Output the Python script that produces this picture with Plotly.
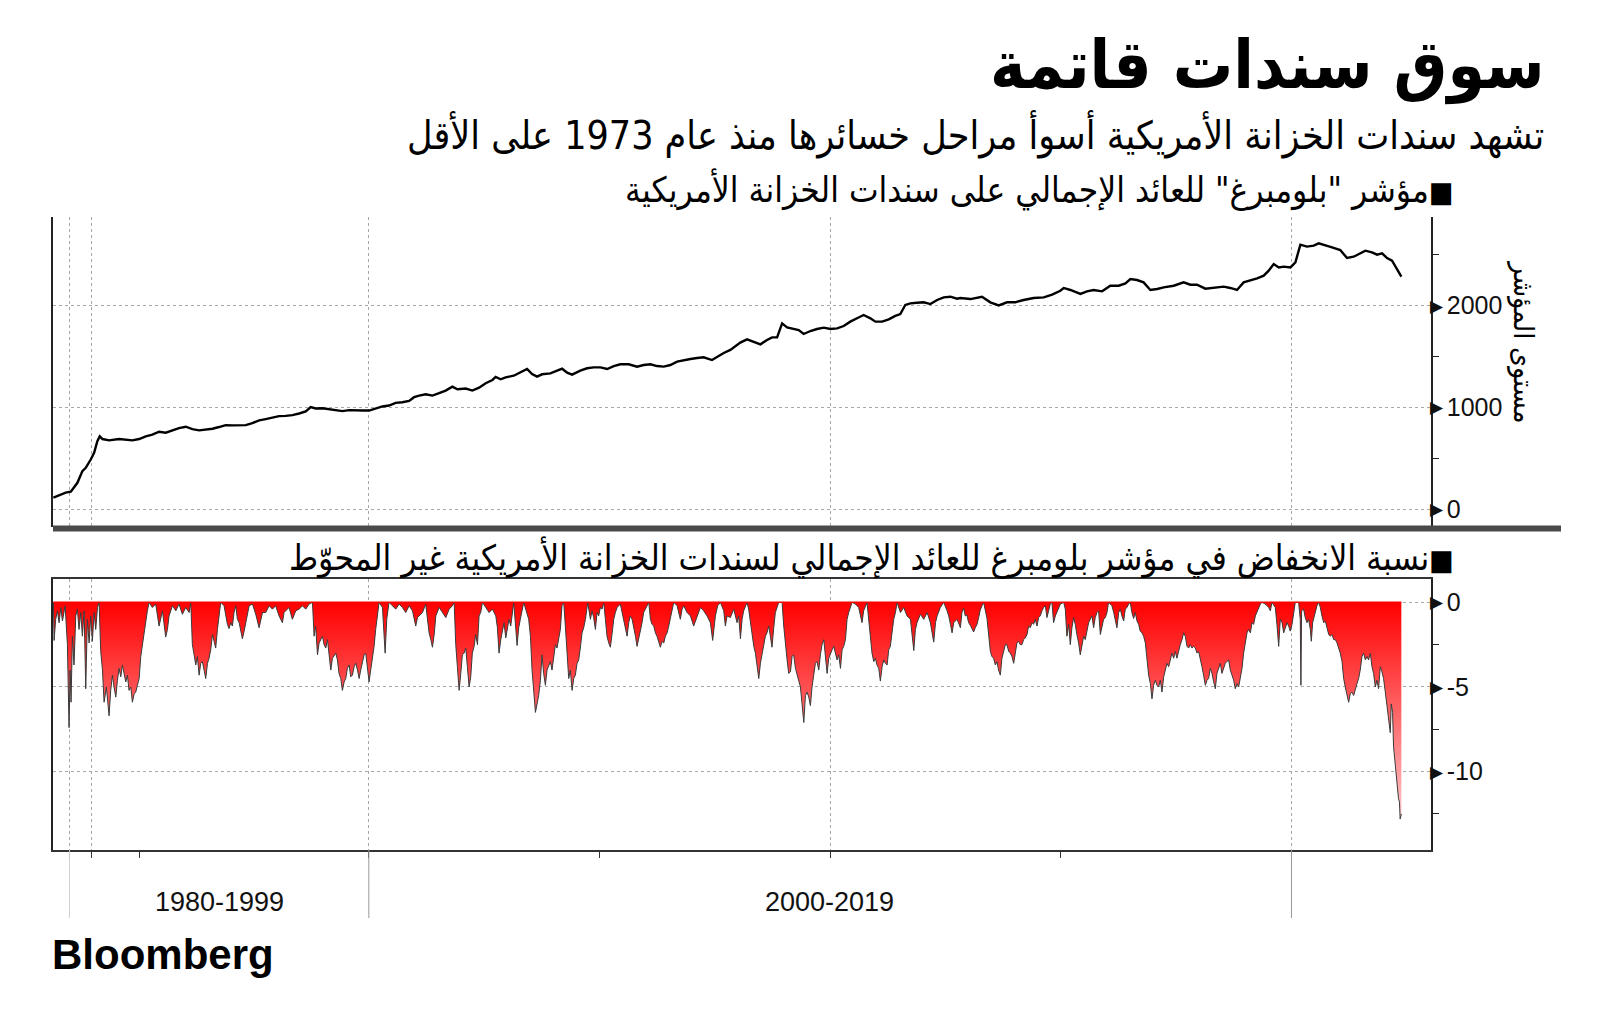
import plotly.graph_objects as go

# ---------------- data ----------------
# position along the time axis (0 = first observation, 100 = last observation)
tr_pos = [
    0.0, 0.42, 0.91, 1.29, 1.53, 1.78, 2.15, 2.40, 2.77, 3.02,
    3.26, 3.44, 3.64, 4.13, 4.87, 5.86, 6.36, 6.85, 7.34, 7.84,
    8.33, 8.83, 9.32, 9.82, 10.31, 10.81, 11.30, 11.80, 12.29, 12.78,
    13.28, 13.78, 14.27, 14.76, 15.26, 15.75, 16.25, 16.74, 17.23, 17.73,
    18.23, 18.72, 19.09, 19.46, 19.96, 20.45, 20.94, 21.44, 21.94, 22.43,
    22.92, 23.42, 23.91, 24.41, 24.90, 25.39, 25.89, 26.39, 26.76, 27.13,
    27.62, 28.12, 28.61, 29.10, 29.60, 29.97, 30.59, 31.08, 31.58, 32.07,
    32.57, 32.81, 33.18, 33.55, 34.15, 34.64, 35.14, 35.51, 35.88, 36.25,
    36.87, 37.37, 37.74, 38.11, 38.48, 39.09, 39.59, 40.08, 40.58, 41.08,
    41.57, 42.06, 42.68, 43.30, 43.79, 44.29, 44.78, 45.28, 45.77, 46.27,
    46.76, 47.26, 47.75, 48.24, 48.86, 49.24, 49.73, 50.22, 50.59, 50.96,
    51.46, 51.95, 52.45, 52.94, 53.32, 53.69, 54.06, 54.43, 54.92, 55.29,
    55.66, 56.16, 56.65, 57.15, 57.64, 58.14, 58.63, 59.12, 59.62, 60.11,
    60.61, 60.98, 61.48, 61.97, 62.46, 62.83, 63.20, 63.58, 64.07, 64.56,
    65.06, 65.56, 66.05, 66.54, 67.04, 67.28, 68.03, 68.89, 69.51, 70.13,
    70.75, 71.36, 71.98, 72.72, 73.47, 74.09, 74.70, 74.95, 75.45, 76.19,
    76.68, 77.17, 77.80, 78.41, 79.03, 79.53, 79.90, 80.39, 80.88, 81.38,
    81.88, 82.37, 83.11, 83.85, 84.35, 84.84, 85.46, 86.07, 86.82, 87.31,
    87.81, 88.30, 88.80, 89.30, 89.79, 90.16, 90.53, 90.91, 91.28, 91.77,
    92.14, 92.39, 92.51, 93.00, 93.50, 93.87, 94.36, 94.86, 95.47, 95.97,
    96.46, 96.96, 97.33, 97.82, 98.20, 98.57, 98.94, 99.31, 99.75, 100.0,
]
# Bloomberg US Treasury total return index level
tr_level = [
    114, 137, 163, 173, 212, 260, 375, 407, 489, 554,
    668, 717, 690, 677, 690, 677, 690, 717, 733, 762,
    752, 775, 798, 811, 788, 775, 782, 791, 808, 827,
    824, 827, 827, 847, 873, 886, 899, 915, 918, 925,
    941, 961, 1003, 990, 993, 984, 977, 964, 974, 970,
    970, 970, 990, 1010, 1019, 1045, 1052, 1065, 1101, 1117,
    1130, 1117, 1140, 1166, 1205, 1179, 1186, 1166, 1195, 1238,
    1270, 1300, 1277, 1296, 1312, 1342, 1378, 1329, 1303, 1326,
    1335, 1362, 1381, 1342, 1322, 1362, 1385, 1394, 1394, 1378,
    1407, 1424, 1424, 1401, 1417, 1424, 1407, 1401, 1417, 1450,
    1466, 1476, 1486, 1493, 1466, 1499, 1535, 1565, 1597, 1637,
    1669, 1647, 1620, 1663, 1689, 1689, 1826, 1787, 1774, 1761,
    1722, 1751, 1771, 1784, 1771, 1777, 1800, 1843, 1876, 1908,
    1876, 1843, 1843, 1866, 1899, 1918, 2007, 2023, 2029, 2033,
    2016, 2056, 2082, 2088, 2069, 2075, 2065, 2088, 2033, 2003,
    2033, 2033, 2056, 2075, 2082, 2108, 2147, 2174, 2154, 2115,
    2141, 2154, 2141, 2196, 2196, 2219, 2262, 2252, 2229, 2154,
    2164, 2180, 2196, 2229, 2206, 2206, 2167, 2174, 2187, 2174,
    2154, 2229, 2246, 2268, 2295, 2344, 2409, 2376, 2383, 2376,
    2426, 2540, 2599, 2580, 2589, 2612, 2589, 2573, 2547, 2468,
    2481, 2514, 2540, 2524, 2501, 2514, 2468, 2442, 2344, 2285,
]

dd_pos = [
    0.00, 0.05, 0.17, 0.30, 0.42, 0.55, 0.67, 0.87, 1.04, 1.16,
    1.24, 1.31, 1.41, 1.53, 1.66, 1.78, 1.90, 2.03, 2.15, 2.28,
    2.40, 2.52, 2.65, 2.77, 2.89, 3.02, 3.14, 3.27, 3.39, 3.51,
    3.64, 3.76, 3.93, 4.13, 4.25, 4.38, 4.50, 4.63, 4.75, 4.87,
    5.00, 5.12, 5.24, 5.37, 5.49, 5.61, 5.74, 5.86, 5.99, 6.11,
    6.23, 6.36, 6.48, 6.60, 6.73, 6.85, 6.97, 7.10, 7.34, 7.59,
    7.84, 8.09, 8.33, 8.46, 8.58, 8.83, 9.08, 9.32, 9.57, 9.82,
    10.07, 10.19, 10.31, 10.44, 10.56, 10.68, 10.81, 10.93, 11.05, 11.18,
    11.30, 11.43, 11.55, 11.67, 11.80, 11.92, 12.04, 12.17, 12.29, 12.41,
    12.66, 12.79, 12.91, 13.03, 13.16, 13.28, 13.40, 13.53, 13.65, 13.78,
    13.90, 14.02, 14.15, 14.27, 14.40, 14.52, 14.77, 15.01, 15.26, 15.38,
    15.51, 15.75, 16.00, 16.25, 16.49, 16.74, 16.99, 17.11, 17.24, 17.48,
    17.73, 17.98, 18.23, 18.47, 18.72, 18.97, 19.22, 19.34, 19.46, 19.59,
    19.71, 19.96, 20.08, 20.21, 20.33, 20.58, 20.70, 20.95, 21.07, 21.19,
    21.32, 21.44, 21.57, 21.69, 21.81, 21.94, 22.06, 22.18, 22.31, 22.43,
    22.56, 22.68, 22.80, 22.93, 23.05, 23.17, 23.30, 23.42, 23.54, 23.67,
    23.79, 23.91, 24.04, 24.16, 24.41, 24.53, 24.61, 24.73, 24.90, 25.15,
    25.40, 25.65, 25.89, 26.14, 26.39, 26.64, 26.88, 27.01, 27.13, 27.38,
    27.62, 27.75, 27.87, 28.00, 28.12, 28.25, 28.37, 28.62, 28.86, 29.11,
    29.36, 29.60, 29.73, 29.85, 29.97, 30.10, 30.22, 30.34, 30.47, 30.59,
    30.71, 30.84, 30.96, 31.08, 31.21, 31.33, 31.46, 31.58, 31.70, 31.83,
    32.08, 32.32, 32.57, 32.82, 32.94, 33.06, 33.19, 33.31, 33.43, 33.56,
    33.68, 33.80, 33.93, 34.05, 34.15, 34.40, 34.52, 34.64, 34.89, 35.26,
    35.39, 35.51, 35.63, 35.76, 35.88, 36.00, 36.13, 36.25, 36.37, 36.50,
    36.62, 36.75, 36.87, 36.99, 37.12, 37.24, 37.36, 37.49, 37.61, 37.73,
    37.86, 37.98, 38.11, 38.23, 38.35, 38.48, 38.60, 38.72, 38.85, 38.97,
    39.09, 39.22, 39.34, 39.47, 39.64, 39.84, 39.96, 40.08, 40.21, 40.33,
    40.45, 40.58, 40.70, 40.83, 40.95, 41.07, 41.20, 41.32, 41.44, 41.57,
    41.69, 41.82, 42.06, 42.19, 42.31, 42.43, 42.56, 42.68, 42.80, 42.93,
    43.05, 43.18, 43.30, 43.42, 43.55, 43.67, 43.79, 44.04, 44.17, 44.29,
    44.41, 44.54, 44.66, 44.78, 44.91, 45.03, 45.15, 45.28, 45.40, 45.53,
    45.65, 45.77, 45.90, 46.02, 46.27, 46.51, 46.64, 46.76, 47.01, 47.26,
    47.50, 47.75, 48.00, 48.24, 48.49, 48.74, 48.91, 49.11, 49.28, 49.48,
    49.73, 49.85, 49.98, 50.22, 50.47, 50.72, 50.84, 50.97, 51.09, 51.21,
    51.46, 51.58, 51.71, 51.83, 51.96, 52.08, 52.20, 52.33, 52.45, 52.57,
    52.70, 52.82, 52.94, 53.07, 53.19, 53.31, 53.44, 53.56, 53.81, 54.06,
    54.18, 54.31, 54.43, 54.55, 54.68, 54.80, 54.92, 55.05, 55.17, 55.29,
    55.42, 55.54, 55.67, 55.79, 55.91, 56.04, 56.16, 56.28, 56.41, 56.53,
    56.65, 56.78, 56.90, 57.02, 57.15, 57.27, 57.40, 57.52, 57.64, 57.77,
    57.89, 58.01, 58.14, 58.26, 58.39, 58.51, 58.63, 58.76, 58.88, 59.00,
    59.13, 59.25, 59.50, 59.74, 59.99, 60.11, 60.36, 60.49, 60.61, 60.73,
    60.86, 60.98, 61.10, 61.23, 61.35, 61.48, 61.60, 61.72, 61.85, 61.97,
    62.09, 62.22, 62.34, 62.47, 62.59, 62.84, 63.08, 63.33, 63.58, 63.83,
    63.95, 64.07, 64.32, 64.57, 64.82, 65.06, 65.31, 65.44, 65.56, 65.80,
    66.05, 66.30, 66.42, 66.55, 66.67, 66.79, 67.04, 67.29, 67.40, 67.53,
    67.65, 67.77, 67.90, 68.02, 68.15, 68.27, 68.39, 68.52, 68.64, 68.76,
    68.89, 69.01, 69.26, 69.38, 69.51, 69.63, 69.75, 69.88, 70.00, 70.12,
    70.25, 70.37, 70.49, 70.62, 70.74, 70.87, 70.99, 71.11, 71.24, 71.36,
    71.48, 71.61, 71.73, 71.85, 71.98, 72.10, 72.23, 72.35, 72.47, 72.60,
    72.72, 72.84, 72.97, 73.09, 73.21, 73.34, 73.46, 73.59, 73.71, 73.83,
    73.96, 74.08, 74.20, 74.33, 74.45, 74.57, 74.70, 74.95, 75.07, 75.19,
    75.32, 75.44, 75.56, 75.69, 75.81, 75.93, 76.06, 76.18, 76.31, 76.43,
    76.55, 76.68, 76.80, 76.92, 77.05, 77.17, 77.29, 77.42, 77.54, 77.67,
    77.79, 77.91, 78.04, 78.16, 78.28, 78.53, 78.66, 78.78, 78.90, 79.03,
    79.15, 79.27, 79.40, 79.52, 79.65, 79.77, 79.89, 80.01, 80.14, 80.26,
    80.39, 80.51, 80.63, 80.76, 80.88, 81.01, 81.13, 81.25, 81.38, 81.50,
    81.62, 81.75, 81.87, 81.99, 82.12, 82.24, 82.37, 82.49, 82.61, 82.74,
    82.86, 82.98, 83.11, 83.23, 83.35, 83.48, 83.60, 83.73, 83.85, 83.97,
    84.10, 84.22, 84.34, 84.47, 84.59, 84.72, 84.84, 84.96, 85.09, 85.21,
    85.33, 85.46, 85.58, 85.70, 85.83, 85.95, 86.08, 86.20, 86.32, 86.45,
    86.57, 86.69, 86.82, 86.94, 87.06, 87.19, 87.31, 87.44, 87.56, 87.68,
    87.81, 87.93, 88.05, 88.18, 88.30, 88.43, 88.55, 88.67, 88.80, 88.92,
    89.04, 89.17, 89.29, 89.41, 89.54, 89.66, 89.91, 90.16, 90.28, 90.40,
    90.65, 90.77, 90.90, 91.02, 91.15, 91.27, 91.39, 91.52, 91.64, 91.76,
    91.89, 92.01, 92.13, 92.38, 92.50, 92.55, 92.60, 92.75, 92.87, 93.00,
    93.12, 93.25, 93.32, 93.42, 93.62, 93.74, 93.87, 93.99, 94.11, 94.24,
    94.36, 94.48, 94.61, 94.73, 94.86, 94.98, 95.10, 95.23, 95.35, 95.47,
    95.60, 95.72, 95.84, 95.97, 96.09, 96.21, 96.34, 96.46, 96.58, 96.71,
    96.83, 96.95, 97.08, 97.20, 97.33, 97.45, 97.57, 97.70, 97.82, 97.94,
    98.07, 98.19, 98.31, 98.44, 98.56, 98.68, 98.81, 98.93, 99.05, 99.18,
    99.25, 99.35, 99.42, 99.54, 99.67, 99.79, 99.86, 99.91, 100.0,
]
# drawdown from the running peak, %
dd_pct = [
    0, -2.25, -1.0, -0.5, -1.2, -0.3, -1.1, -0.2, -2.5, -7.4,
    -4.0, -5.9, -2.0, -3.7, -0.8, -0.4, -1.6, -0.6, -2.0, -0.5,
    -5.1, -1.0, -2.4, -0.8, -2.3, -0.6, -1.6, -0.3, 0, -2.9,
    -4.0, -5.9, -5.0, -6.7, -5.2, -4.3, -5.0, -5.6, -4.6, -3.9,
    -4.4, -3.7, -4.2, -4.7, -4.3, -5.2, -5.0, -5.9, -5.4, -5.3,
    -4.9, -4.5, -3.2, -2.5, -1.8, -1.0, -0.5, 0, -0.3, -0.1,
    -1.4, -0.5, -2.05, -1.6, -0.8, -0.2, -0.5, -0.1, -0.7, -0.3,
    -0.6, 0, -2.5, -3.1, -3.7, -3.2, -4.3, -3.6, -3.5, -4.0,
    -4.5, -3.6, -3.3, -2.8, -1.9, -2.3, -2.7, -1.6, -0.8, 0,
    -0.2, -0.8, -1.3, -1.55, -1.2, -1.4, -0.6, -0.2, -1.0, -1.2,
    -1.8, -2.15, -1.7, -1.2, -0.6, -0.2, -0.1, -0.7, -1.5, -1.0,
    -0.6, -0.6, -0.2, -0.4, -0.2, -0.8, -1.2, -0.6, -0.5, -0.3,
    -1.0, -0.5, -0.4, -0.2, -0.4, -0.1, 0, -2.0, -1.4, -3.1,
    -2.4, -2.0, -2.5, -2.7, -2.2, -4.0, -3.3, -3.0, -3.4, -4.2,
    -4.5, -5.2, -4.7, -4.5, -3.9, -3.7, -4.4, -4.3, -3.8, -3.6,
    -4.0, -4.5, -4.0, -3.4, -3.1, -3.0, -3.8, -4.7, -4.0, -3.4,
    -2.6, -1.6, -0.8, 0, -0.3, -2.0, -3.0, -1.0, 0, -0.2,
    -0.4, -0.1, -0.3, -0.6, -0.2, -0.5, -1.4, -0.9, -0.8, -0.6,
    -0.1, -1.0, -1.8, -2.2, -2.65, -1.9, -0.8, -0.3, -0.6, -0.9,
    -0.4, -0.2, 0, -2.5, -3.8, -5.2, -4.2, -3.1, -3.0, -2.7,
    -3.8, -5.0, -4.4, -3.0, -2.6, -1.9, -2.5, -0.8, -0.6, 0,
    -0.3, -0.6, -0.4, -0.8, -1.5, -3.0, -2.2, -1.7, -1.2, -2.1,
    -1.4, -1.0, -1.4, -0.5, 0, -2.55, -1.5, -1.0, 0, -1.0,
    -2.0, -4.0, -5.5, -6.5, -6.0, -5.5, -4.6, -3.1, -4.2, -4.9,
    -4.0, -3.7, -3.5, -4.0, -3.0, -2.5, -2.7, -2.1, -1.6, -0.2,
    0, -1.4, -3.0, -4.5, -4.0, -5.2, -4.5, -4.3, -3.6, -3.4,
    -2.7, -1.8, -1.5, -1.0, 0, -1.0, -0.5, -0.9, -1.6, -0.6,
    -0.8, -0.3, -0.4, 0, -1.0, -2.0, -2.4, -2.65, -1.9, -1.0,
    -0.6, -0.3, -0.1, -0.6, -1.0, -1.5, -2.0, -1.2, -0.8, -1.0,
    -1.4, -2.0, -2.6, -2.2, -1.6, -1.2, -0.6, -0.2, 0, -1.0,
    -1.3, -1.4, -1.8, -2.0, -2.4, -2.65, -2.3, -2.4, -2.0, -1.8,
    -1.4, -1.0, -0.5, 0, -0.2, -1.0, -0.4, -0.2, -0.6, -0.8,
    -1.4, -0.9, -0.3, -0.5, -0.8, -1.2, -2.25, -0.8, -0.2, 0,
    -0.5, -1.4, -0.8, -0.9, -0.4, -1.2, -0.8, -2.15, -1.0, -0.5,
    0, -0.4, -1.2, -2.0, -2.6, -3.0, -3.8, -4.5, -3.6, -3.0,
    -2.6, -2.0, -1.8, -1.4, -2.0, -2.65, -1.5, -0.6, 0, 0,
    -1.4, -2.6, -3.4, -4.2, -4.1, -3.2, -3.1, -3.9, -4.3, -4.6,
    -5.0, -6.0, -7.1, -5.5, -5.3, -5.6, -6.1, -5.0, -4.2, -3.6,
    -3.5, -4.0, -3.1, -2.5, -2.2, -3.3, -4.2, -3.3, -3.0, -2.8,
    -2.6, -3.0, -3.4, -3.1, -3.9, -2.8, -2.6, -2.2, -1.0, -0.6,
    -0.2, 0, -0.1, -0.3, -1.2, -0.5, 0, -1.0, -2.0, -3.0,
    -3.5, -3.3, -3.7, -3.9, -4.65, -3.8, -3.4, -3.6, -3.7, -2.8,
    -2.6, -1.8, -1.0, -0.6, 0, -0.6, -0.3, -0.8, -1.0, -2.85,
    -1.6, -1.2, -0.7, -1.0, -0.6, -1.2, -2.35, -1.2, -0.8, -0.3,
    0, -0.5, -0.8, -1.3, -1.8, -1.2, -1.0, -1.5, -0.6, -0.35,
    -0.8, -0.75, -1.2, -1.35, -1.6, -1.75, -1.5, -1.3, -0.9, -0.45,
    -0.2, 0, -0.95, -1.8, -2.9, -3.2, -3.3, -3.7, -3.5, -4.0,
    -4.3, -3.3, -2.9, -2.5, -2.5, -2.9, -3.0, -3.2, -3.6, -3.0,
    -2.4, -2.3, -2.5, -2.5, -2.2, -2.1, -1.9, -1.4, -1.5, -1.2,
    -1.3, -1.0, -1.4, -0.9, -0.8, -0.5, -0.3, -0.2, -0.9, -0.5,
    -0.1, 0, -1.2, -0.8, -0.6, -0.4, -0.1, 0, -0.4, -2.0,
    -1.3, -2.5, -1.5, -0.9, -1.3, -1.9, -2.4, -3.1, -2.6, -2.0,
    -2.2, -1.7, -1.2, -1.0, -0.8, -1.5, -0.9, -0.6, -0.5, -1.9,
    -1.4, -1.0, -0.9, -0.6, 0, -0.2, -0.6, -1.0, -1.5, -0.6,
    -0.4, -0.8, -1.1, -0.4, -0.3, -0.1, 0, -0.6, -0.95, -0.6,
    -1.1, -1.3, -1.7, -1.8, -2.0, -2.4, -3.6, -4.3, -4.8, -5.7,
    -4.9, -4.6, -4.9, -5.0, -4.6, -5.3, -4.4, -3.9, -3.6, -3.8,
    -3.3, -3.0, -3.3, -2.9, -3.3, -2.8, -2.5, -2.2, -1.8, -2.0,
    -2.6, -2.7, -2.5, -2.7, -2.6, -2.7, -3.0, -2.9, -3.5, -3.8,
    -4.3, -4.9, -4.6, -4.5, -3.9, -4.2, -4.7, -5.1, -4.2, -3.9,
    -3.6, -4.2, -3.8, -3.6, -3.5, -3.4, -4.0, -4.3, -4.6, -5.1,
    -4.8, -5.0, -4.4, -3.9, -3.0, -2.2, -1.8, -1.6, -1.8, -1.2,
    -1.3, -0.8, -0.6, -0.3, -0.1, 0, -0.1, -0.3, -0.5, 0,
    -0.3, -1.3, -2.6, -1.0, -1.2, -1.8, -1.5, -1.2, -1.4, -1.7,
    -1.3, -0.5, 0, 0, -1.0, -4.9, -0.5, -0.4, -0.9, -1.2,
    -1.0, -1.6, -2.3, -1.2, -0.5, -0.2, 0, -0.3, -0.8, -1.2,
    -1.1, -1.5, -1.9, -2.0, -1.9, -2.2, -2.2, -2.4, -2.7, -3.0,
    -3.5, -4.5, -5.0, -5.6, -5.9, -5.4, -5.3, -5.5, -5.1, -4.8,
    -4.5, -4.0, -3.2, -3.0, -3.4, -3.2, -3.4, -3.0, -3.8, -4.2,
    -5.0, -4.6, -5.1, -3.8, -4.1, -4.5, -5.3, -6.0, -6.9, -7.7,
    -6.0, -6.5, -8.5, -9.6, -10.8, -11.6, -11.8, -12.8, -12.5,
]

# axis ticks / period boundaries (same position scale)
grid_pos = [1.19, 2.8, 23.4, 57.65, 91.85]
minor_pos = [6.38, 40.5, 74.7]
period_bounds = [1.19, 23.4, 91.85]
period_labels = ["1980-1999", "2000-2019"]
period_label_pos = [12.3, 57.6]

level_ticks = [0, 1000, 2000]
level_minor = [500, 1500, 2500]
dd_ticks = [0, -5, -10]
dd_minor = [-2.5, -7.5, -12.5]

title = "سوق سندات قاتمة"
subtitle = "تشهد سندات الخزانة الأمريكية أسوأ مراحل خسائرها منذ عام 1973 على الأقل"
top_label = "مؤشر \"بلومبرغ\" للعائد الإجمالي على سندات الخزانة الأمريكية"
bottom_label = "نسبة الانخفاض في مؤشر بلومبرغ للعائد الإجمالي لسندات الخزانة الأمريكية غير المحوّط"
square = '<span style="font-size:29px">■</span>'
y_title = "مستوى المؤشر"

# ---------------- figure ----------------
W, H = 1600, 1033
ML, MR = 53, 169
PW = W - ML - MR


def py(pix):
    return 1 - pix / H


def px(pix):
    return (pix - ML) / PW


AR = "DejaVu Sans Condensed, DejaVu Sans"
LAT = "Liberation Sans, Arial"
TICKF = "Liberation Sans, Arial"
GRID = "#a8a8a8"
XR = [-0.03, 102.2]

fig = go.Figure()
fig.add_trace(go.Scatter(
    x=tr_pos, y=tr_level, mode="lines",
    line=dict(color="#000000", width=2.4),
    xaxis="x", yaxis="y", hoverinfo="skip",
))
fig.add_trace(go.Scatter(
    x=dd_pos, y=dd_pct, mode="lines",
    line=dict(color="#3a3a3a", width=1),
    fill="tozeroy",
    fillgradient=dict(type="vertical",
                      colorscale=[[0, "#ffc8cc"], [1, "#ff0000"]]),
    xaxis="x2", yaxis="y2", hoverinfo="skip",
))

axis_common = dict(showgrid=True, gridcolor=GRID, griddash="dot", gridwidth=1,
                   zeroline=False, automargin=False)

fig.update_layout(
    width=W, height=H,
    margin=dict(l=ML, r=MR, t=0, b=0),
    paper_bgcolor="white", plot_bgcolor="white",
    showlegend=False,
    xaxis=dict(domain=[0, 1], anchor="y", range=XR, tickvals=grid_pos,
               showticklabels=False, ticks="", showline=False, **axis_common),
    yaxis=dict(domain=[py(527), py(217)], anchor="x", range=[-174, 2871],
               side="right", tickvals=level_ticks,
               ticktext=[str(v) for v in level_ticks], ticks="",
               ticklabelstandoff=9,
               tickfont=dict(family=TICKF, size=25, color="#111"),
               showline=True, linecolor="#222", linewidth=1.5, mirror=True,
               minor=dict(tickvals=level_minor, ticks="outside", ticklen=6,
                          tickcolor="#222", showgrid=False),
               **axis_common),
    xaxis2=dict(domain=[0, 1], anchor="y2", range=XR, tickvals=grid_pos,
                showticklabels=False, ticks="outside", ticklen=6,
                tickcolor="#333",
                showline=True, linecolor="#333", linewidth=1.5, mirror=True,
                minor=dict(tickvals=minor_pos, ticks="outside", ticklen=6,
                           tickcolor="#333", showgrid=False),
                **axis_common),
    yaxis2=dict(domain=[py(850), py(579)], anchor="x2", range=[-14.63, 1.38],
                side="right", tickvals=dd_ticks,
                ticktext=[str(v) for v in dd_ticks], ticks="",
                ticklabelstandoff=9,
                tickfont=dict(family=TICKF, size=25, color="#111"),
                showline=True, linecolor="#222", linewidth=1.5, mirror=True,
                minor=dict(tickvals=dd_minor, ticks="outside", ticklen=6,
                           tickcolor="#222", showgrid=False),
                **axis_common),
)

shapes = []
# separator bar between panels
shapes.append(dict(type="line", xref="paper", yref="paper",
                   x0=0, x1=px(1561), y0=py(528.5), y1=py(528.5),
                   line=dict(color="#4a4a4a", width=6)))
# zero line of the drawdown panel (red fill edge)
shapes.append(dict(type="line", xref="x2", yref="y2",
                   x0=dd_pos[0], x1=dd_pos[-1], y0=0, y1=0,
                   line=dict(color="#ff0000", width=1.5), layer="above"))
# period separator lines under the lower panel
for i, b in enumerate(period_bounds):
    shapes.append(dict(type="line", xref="x2", yref="paper",
                       x0=b, x1=b, y0=py(918), y1=py(850),
                       line=dict(color="#d0d0d0" if i == 0 else "#999999",
                                 width=1)))
fig.update_layout(shapes=shapes)

ann = []
ann.append(dict(text="<b>" + title + "</b>", xref="paper", yref="paper",
                x=px(1546), y=py(66), xanchor="right", yanchor="middle",
                showarrow=False, font=dict(family=AR, size=67, color="#000")))
ann.append(dict(text=subtitle, xref="paper", yref="paper",
                x=px(1546), y=py(135), xanchor="right", yanchor="middle",
                showarrow=False, font=dict(family=AR, size=39, color="#000")))
ann.append(dict(text=top_label + square, xref="paper", yref="paper",
                x=px(1456), y=py(189), xanchor="right", yanchor="middle",
                showarrow=False, font=dict(family=AR, size=35, color="#000")))
ann.append(dict(text=bottom_label + square, xref="paper", yref="paper",
                x=px(1456), y=py(557), xanchor="right", yanchor="middle",
                showarrow=False, font=dict(family=AR, size=35, color="#000")))
ann.append(dict(text=y_title, xref="paper", yref="paper",
                x=px(1524), y=py(342), xanchor="center", yanchor="middle",
                textangle=90, showarrow=False,
                font=dict(family=AR, size=28, color="#000")))
# arrow markers at the major ticks
for v in level_ticks:
    ann.append(dict(text="▶", xref="paper", yref="y", x=1, y=v,
                    xanchor="left", yanchor="middle", showarrow=False,
                    xshift=-3, font=dict(family="DejaVu Sans", size=17,
                                         color="#111")))
for v in dd_ticks:
    ann.append(dict(text="▶", xref="paper", yref="y2", x=1, y=v,
                    xanchor="left", yanchor="middle", showarrow=False,
                    xshift=-3, font=dict(family="DejaVu Sans", size=17,
                                         color="#111")))
for lab, pos in zip(period_labels, period_label_pos):
    ann.append(dict(text=lab, xref="x2", yref="paper", x=pos, y=py(902),
                    xanchor="center", yanchor="middle", showarrow=False,
                    font=dict(family=LAT, size=27, color="#111")))
ann.append(dict(text="<b>Bloomberg</b>", xref="paper", yref="paper",
                x=0, y=py(954), xanchor="left", yanchor="middle",
                showarrow=False, xshift=-3,
                font=dict(family=LAT, size=42, color="#000")))
fig.update_layout(annotations=ann)

fig.write_html("out.html",
               config={"displayModeBar": False},
               post_script="document.body.style.margin='0px';")
